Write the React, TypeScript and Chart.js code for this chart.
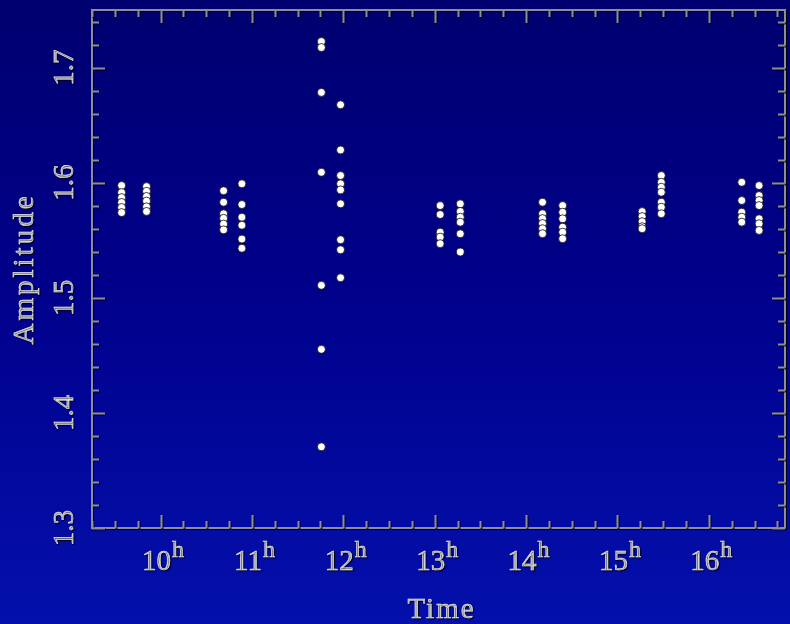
import React, { useEffect, useRef } from 'react';
import { Chart, registerables } from 'chart.js';

Chart.register(...registerables);

// Hour (decimal) of each cluster of observations
const clusterTimes = [9.574, 9.847, 10.69, 10.89, 11.76, 11.97, 13.06, 13.28, 14.18, 14.4, 15.27, 15.48, 16.36, 16.55];

// Amplitudes of each cluster (same order as clusterTimes)
const amplitudeGroups: number[][] = [
  [1.5975, 1.5914, 1.587, 1.5828, 1.5784, 1.574],
  [1.5966, 1.5925, 1.588, 1.584, 1.579, 1.575],
  [1.593, 1.583, 1.573, 1.569, 1.564, 1.559],
  [1.599, 1.581, 1.57, 1.563, 1.551, 1.543],
  [1.7226, 1.7174, 1.6784, 1.609, 1.5108, 1.4552, 1.3705],
  [1.6677, 1.6284, 1.6062, 1.599, 1.5937, 1.5816, 1.5504, 1.5417, 1.5174],
  [1.5801, 1.5723, 1.557, 1.5527, 1.547],
  [1.5816, 1.575, 1.57, 1.5657, 1.5556, 1.5397],
  [1.583, 1.573, 1.5688, 1.5645, 1.56, 1.5557],
  [1.5801, 1.5743, 1.5686, 1.5613, 1.557, 1.5513],
  [1.5749, 1.5705, 1.5661, 1.5617, 1.56],
  [1.6062, 1.6003, 1.596, 1.5917, 1.583, 1.5787, 1.573],
  [1.6003, 1.5845, 1.5743, 1.57, 1.5657],
  [1.5975, 1.5888, 1.5845, 1.5801, 1.5686, 1.5643, 1.5585],
];

// Axes
const xRange = [9.25, 16.8333];
const yRange = [1.3, 1.75];
const xMajorTicks = [10, 11, 12, 13, 14, 15, 16];
const xTickLabels = ['10', '11', '12', '13', '14', '15', '16'];
const yMajorTicks = [1.3, 1.4, 1.5, 1.6, 1.7];
const yTickLabels = ['1.3', '1.4', '1.5', '1.6', '1.7'];
const xMinorStep = 0.25;
const yMinorStep = 0.02;
const xTitle = 'Time';
const yTitle = 'Amplitude';
const hourMark = 'h';

const SERIF = '"Liberation Serif", "DejaVu Serif", serif';
const TEXT_COLOR = '#e0e0e0';
const AXIS_COLOR = '#8e8e8e';

function steps(min: number, max: number, step: number): number[] {
  const out: number[] = [];
  const n = Math.floor((max - min) / step + 1e-6);
  for (let i = 0; i <= n; i++) out.push(+(min + i * step).toFixed(6));
  return out;
}

function drawText(ctx: CanvasRenderingContext2D, s: string, x: number, y: number) {
  ctx.lineWidth = 0.6;
  ctx.strokeStyle = TEXT_COLOR;
  ctx.fillText(s, x, y);
  ctx.strokeText(s, x, y);
}

const framePlugin = {
  id: 'astroFrame',
  beforeDatasetsDraw(chart: any) {
    const { ctx, chartArea: a, scales } = chart;
    const xs = scales.x;
    const ys = scales.y;
    ctx.save();
    ctx.strokeStyle = AXIS_COLOR;
    ctx.lineWidth = 2;
    ctx.shadowColor = 'rgba(0,0,0,0.8)';
    ctx.shadowOffsetX = 1;
    ctx.shadowOffsetY = 1;
    ctx.strokeRect(a.left, a.top, a.right - a.left, a.bottom - a.top);

    const majorLen = 13;
    const minorLen = 7;
    const isMajorX = (v: number) => xMajorTicks.some((m) => Math.abs(m - v) < 1e-6);
    const isMajorY = (v: number) => yMajorTicks.some((m) => Math.abs(m - v) < 1e-6);

    ctx.beginPath();
    steps(xRange[0], xRange[1], xMinorStep).forEach((v) => {
      const px = Math.round(xs.getPixelForValue(v)) + 0.5;
      const len = isMajorX(v) ? majorLen : minorLen;
      ctx.moveTo(px, a.bottom);
      ctx.lineTo(px, a.bottom - len);
      ctx.moveTo(px, a.top);
      ctx.lineTo(px, a.top + len);
    });
    steps(yRange[0], yRange[1], yMinorStep).forEach((v) => {
      const py = Math.round(ys.getPixelForValue(v)) + 0.5;
      const len = isMajorY(v) ? majorLen : minorLen;
      ctx.moveTo(a.left, py);
      ctx.lineTo(a.left + len, py);
      ctx.moveTo(a.right, py);
      ctx.lineTo(a.right - len, py);
    });
    ctx.stroke();
    ctx.restore();
  },
  afterDraw(chart: any) {
    const { ctx, chartArea: a, scales } = chart;
    const xs = scales.x;
    const ys = scales.y;
    ctx.save();
    ctx.fillStyle = TEXT_COLOR;
    ctx.shadowColor = 'rgba(0,0,0,0.9)';
    ctx.shadowOffsetX = 1;
    ctx.shadowOffsetY = 1;
    ctx.shadowBlur = 1;

    // x tick labels with superscript h
    const digitFont = `29px ${SERIF}`;
    const supFont = `24px ${SERIF}`;
    xMajorTicks.forEach((v, i) => {
      const px = xs.getPixelForValue(v);
      ctx.font = digitFont;
      const wd = ctx.measureText(xTickLabels[i]).width;
      ctx.font = supFont;
      const wh = ctx.measureText(hourMark).width;
      const start = px - (wd + wh) / 2 + 2;
      ctx.textAlign = 'left';
      ctx.textBaseline = 'alphabetic';
      ctx.font = digitFont;
      drawText(ctx, xTickLabels[i], start, 570);
      ctx.font = supFont;
      drawText(ctx, hourMark, start + wd + 1, 557);
    });

    // y tick labels, rotated
    ctx.font = `29px ${SERIF}`;
    yMajorTicks.forEach((v, i) => {
      const py = ys.getPixelForValue(v);
      ctx.save();
      ctx.translate(73, py);
      ctx.rotate(-Math.PI / 2);
      ctx.textAlign = 'center';
      ctx.textBaseline = 'alphabetic';
      drawText(ctx, yTickLabels[i], 0, 0);
      ctx.restore();
    });

    // axis titles
    ctx.font = `29px ${SERIF}`;
    (ctx as any).letterSpacing = '2px';
    ctx.textAlign = 'center';
    ctx.textBaseline = 'alphabetic';
    drawText(ctx, xTitle, (a.left + a.right) / 2 + 3, 618);

    (ctx as any).letterSpacing = '3px';
    ctx.save();
    ctx.translate(33, (a.top + a.bottom) / 2);
    ctx.rotate(-Math.PI / 2);
    drawText(ctx, yTitle, 0, 0);
    ctx.restore();
    (ctx as any).letterSpacing = '0px';
    ctx.restore();
  },
};

export default function App() {
  const canvasRef = useRef<HTMLCanvasElement | null>(null);

  useEffect(() => {
    document.body.style.margin = '0';
    const canvas = canvasRef.current;
    if (!canvas) return;

    const points: { x: number; y: number }[] = [];
    clusterTimes.forEach((t, i) => {
      amplitudeGroups[i].forEach((y) => points.push({ x: t, y }));
    });

    const chart = new Chart(canvas, {
      type: 'scatter',
      data: {
        datasets: [
          {
            label: yTitle,
            data: points,
            pointRadius: 4,
            pointHoverRadius: 4,
            backgroundColor: '#ffffff',
            borderColor: 'rgba(0,0,0,0.75)',
            borderWidth: 1,
          },
        ],
      },
      options: {
        animation: false,
        responsive: false,
        devicePixelRatio: 1,
        layout: { padding: { left: 92, top: 10, right: 3, bottom: 96 } },
        plugins: {
          legend: { display: false },
          tooltip: { enabled: false },
        },
        scales: {
          x: { type: 'linear', min: xRange[0], max: xRange[1], display: false },
          y: { type: 'linear', min: yRange[0], max: yRange[1], display: false },
        },
      },
      plugins: [framePlugin],
    });

    return () => chart.destroy();
  }, []);

  return (
    <div
      style={{
        position: 'absolute',
        left: 0,
        top: 0,
        width: 790,
        height: 624,
        overflow: 'hidden',
        background: 'linear-gradient(180deg, #000070 0%, #00008a 45%, #0410ac 100%)',
      }}
    >
      <canvas ref={canvasRef} width={790} height={624} style={{ display: 'block' }} />
    </div>
  );
}
